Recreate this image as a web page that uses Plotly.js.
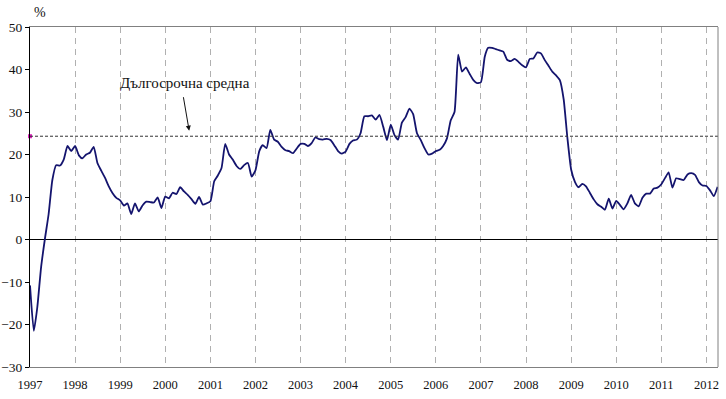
<!DOCTYPE html>
<html>
<head>
<meta charset="utf-8">
<script src="https://cdn.plot.ly/plotly-3.0.1.min.js"></script>
<style>html,body{margin:0;padding:0;background:#fff;}#chart{width:726px;height:399px;}</style>
</head>
<body>
<div id="chart"></div>
<script>
// Monthly series, Jan 1997 .. Apr 2012 (%)
var startYear = 1997;
var values = [
 -10.8, -21.5, -16.0, -6.5, 0.0, 6.0, 14.0, 17.5, 17.4, 18.8, 22.0, 20.8,
 22.0, 19.8, 19.1, 20.0, 20.4, 21.8, 18.0, 16.2, 14.5, 12.5, 10.9, 9.8,
 9.2, 8.0, 8.5, 6.0, 8.5, 6.6, 8.0, 8.9, 8.8, 8.7, 9.9, 7.4,
 10.1, 9.7, 11.0, 10.7, 12.3, 11.3, 10.5, 9.5, 8.4, 10.0, 8.2, 8.5,
 9.0, 13.7, 15.0, 16.8, 22.5, 20.0, 18.8, 17.3, 16.6, 17.5, 18.0, 14.8,
 16.3, 20.8, 22.2, 21.5, 25.8, 23.5, 23.0, 21.8, 21.0, 20.8, 20.3, 21.4,
 22.5, 22.5, 22.0, 22.7, 24.0, 23.6, 23.5, 23.7, 23.4, 22.2, 20.8, 20.2,
 20.7, 22.5, 23.3, 23.5, 25.0, 29.0, 29.0, 29.2, 28.2, 29.3, 26.5, 23.4,
 27.0, 24.5, 23.5, 27.5, 28.8, 30.8, 29.5, 25.0, 23.4, 21.5, 20.0, 20.2,
 20.8, 21.1, 22.0, 23.8, 28.0, 30.0, 43.5, 39.5, 40.5, 39.0, 37.5, 36.8,
 37.0, 43.0, 45.1, 45.1, 44.8, 44.5, 44.2, 42.3, 42.0, 42.5, 41.8, 41.0,
 40.5, 42.5, 42.6, 44.0, 43.8, 42.2, 40.9, 39.5, 38.6, 37.5, 33.0, 24.0,
 16.4, 13.5, 12.3, 13.1, 12.5, 11.0, 9.5, 8.3, 7.7, 7.0, 9.6, 7.3,
 9.1, 8.1, 7.1, 8.5, 10.5, 8.5, 7.8, 9.8, 10.8, 10.8, 12.0, 12.2,
 13.0, 14.5, 15.8, 12.2, 14.4, 14.2, 14.0, 15.3, 15.6, 15.2, 13.5, 12.7,
 12.6, 11.5, 10.2, 12.4
];
var longTermAverage = 24.3;
var averageLabel = "Дългосрочна средна";
var unitLabel = "%";

var dates = values.map(function(v, i){
  var y = startYear + Math.floor(i / 12);
  var m = (i % 12) + 1;
  return y + "-" + (m < 10 ? "0" + m : m) + "-01";
});

var serif = "Liberation Serif, Times New Roman, serif";

var traces = [
  {
    x: dates, y: values, type: "scatter", mode: "lines",
    line: {color: "#14146e", width: 1.8, shape: "spline", smoothing: 0.5},
    hoverinfo: "skip", showlegend: false
  },
  {
    x: [dates[0]], y: [longTermAverage], type: "scatter", mode: "markers",
    marker: {color: "#e020c0", size: 4, symbol: "square"}, cliponaxis: false,
    hoverinfo: "skip", showlegend: false
  }
];

var layout = {
  width: 726, height: 399,
  margin: {l: 30, r: 8, t: 27, b: 32},
  paper_bgcolor: "#fff", plot_bgcolor: "#fff",
  font: {family: serif, size: 12, color: "#111"},
  showlegend: false,
  xaxis: {
    type: "date",
    range: ["1997-01-01", "2012-04-04"],
    tick0: "1997-01-01", dtick: "M12", tickformat: "%Y",
    showgrid: true, gridcolor: "#b0b0b0", griddash: "6px,5px", gridwidth: 1,
    showline: true, linecolor: "#808080", linewidth: 1, mirror: true,
    ticks: "", ticklabelstandoff: 6,
    zeroline: false, fixedrange: true,
    tickfont: {family: serif, size: 12.5, color: "#111"}
  },
  yaxis: {
    range: [-30, 50], dtick: 10, tick0: 0,
    showgrid: false,
    showline: true, linecolor: "#000", linewidth: 1,
    ticks: "outside", ticklen: 4, tickcolor: "#000",
    zeroline: true, zerolinecolor: "#000", zerolinewidth: 1,
    fixedrange: true,
    tickfont: {family: serif, size: 13.5, color: "#111"}
  },
  shapes: [
    {type: "line", xref: "paper", x0: 0, x1: 1, yref: "y", y0: longTermAverage, y1: longTermAverage,
     line: {color: "#333", width: 1, dash: "3px,2px"}},
    {type: "line", xref: "paper", x0: 1, x1: 1, yref: "paper", y0: 0, y1: 1,
     line: {color: "#808080", width: 1}}
  ],
  annotations: [
    {text: averageLabel, xref: "x", yref: "y", x: "2000-06-10", y: 36.8,
     showarrow: false, xanchor: "center", yanchor: "middle",
     font: {family: serif, size: 15, color: "#111"}},
    {text: "", xref: "x", yref: "y", x: "2000-07-13", y: 25.6,
     showarrow: true, ax: -6, ay: -35, arrowhead: 2, arrowsize: 1, arrowwidth: 1, arrowcolor: "#111"},
    {text: unitLabel, xref: "paper", yref: "paper", x: 0.0145, y: 1.044,
     showarrow: false, xanchor: "center", yanchor: "middle",
     font: {family: serif, size: 14, color: "#111"}}
  ]
};

Plotly.newPlot("chart", traces, layout, {displayModeBar: false, staticPlot: true});
</script>
</body>
</html>
